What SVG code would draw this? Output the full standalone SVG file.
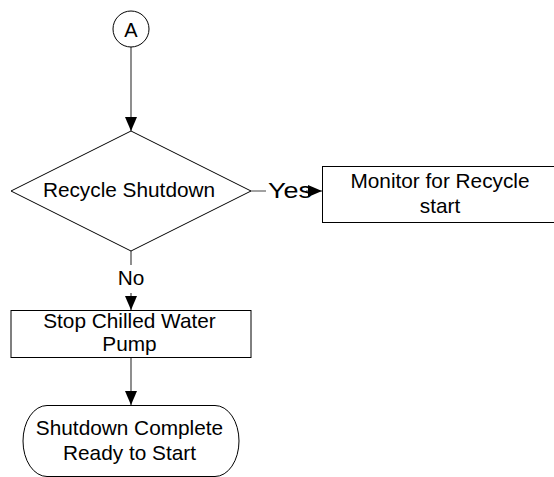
<svg xmlns="http://www.w3.org/2000/svg" width="554" height="477" viewBox="0 0 554 477">
<style>
.s{fill:#fff;stroke:#000;stroke-width:1}
.t{font-family:"Liberation Sans",Arial,sans-serif;font-size:20.8px;fill:#000;text-anchor:middle}
.c{fill:none;stroke:#444;stroke-width:1.2}
</style>
<defs>
<marker id="ah" markerUnits="userSpaceOnUse" markerWidth="14" markerHeight="12" refX="14" refY="6" orient="auto">
<path d="M0,0 L14,6 L0,12 Z" fill="#000"/>
</marker>
</defs>
<rect width="554" height="477" fill="#fff"/>
<g id="connectors">
<path class="c" d="M131,46.5 V131" marker-end="url(#ah)"/>
<path class="c" d="M251,191 H322" marker-end="url(#ah)"/>
<path class="c" d="M131,251 V310" marker-end="url(#ah)"/>
<path class="c" d="M131,358 V405" marker-end="url(#ah)"/>
</g>
<g id="label-yes">
<rect x="266" y="178" width="40" height="24" fill="#fff"/>
<text class="t" x="268" y="197.5" style="text-anchor:start;font-size:21.5px" textLength="44" lengthAdjust="spacingAndGlyphs">Yes</text>
</g>
<g id="label-no">
<rect x="114" y="265" width="34" height="28" fill="#fff"/>
<text class="t" x="131" y="285">No</text>
</g>
<g id="connector-a">
<circle class="s" cx="131" cy="29" r="18"/>
<text class="t" x="131" y="36.5" style="font-size:20px">A</text>
</g>
<g id="recycle-shutdown">
<path class="s" d="M131,131 L251,191 L131,251 L11,191 Z"/>
<text class="t" x="129" y="197">Recycle Shutdown</text>
</g>
<g id="monitor-recycle">
<rect class="s" x="322.5" y="166.5" width="236" height="56"/>
<text class="t" x="440" y="188">Monitor for Recycle</text>
<text class="t" x="440" y="212.5">start</text>
</g>
<g id="stop-pump">
<rect class="s" x="11" y="310.5" width="240" height="47"/>
<text class="t" x="129.5" y="327.5">Stop Chilled Water</text>
<text class="t" x="129.5" y="350.5">Pump</text>
</g>
<g id="shutdown-complete">
<rect class="s" x="23" y="405.5" width="216" height="71" rx="24" ry="35.5"/>
<text class="t" x="129.5" y="435">Shutdown Complete</text>
<text class="t" x="129.5" y="460">Ready to Start</text>
</g>
</svg>
